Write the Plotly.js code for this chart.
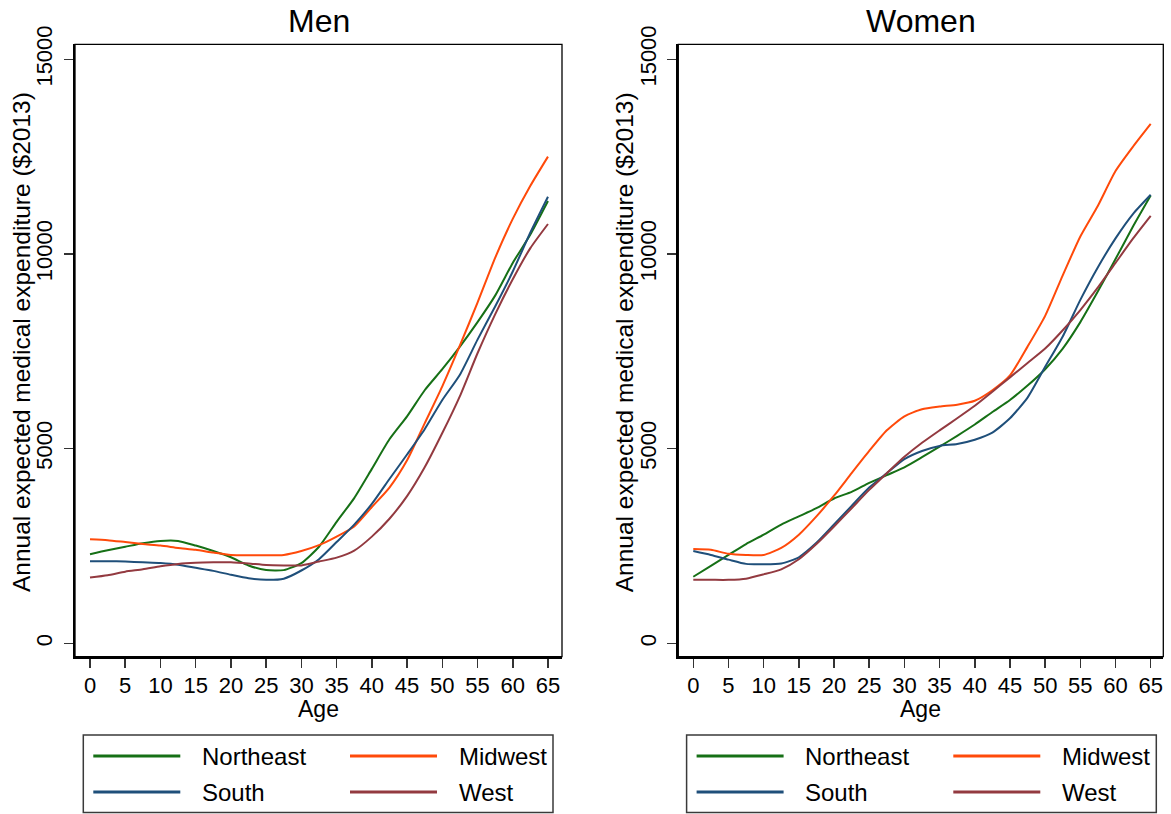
<!DOCTYPE html>
<html>
<head>
<meta charset="utf-8">
<script src="https://cdn.plot.ly/plotly-3.0.1.min.js"></script>
<style>html,body{margin:0;padding:0;background:#fff;}#chart{width:1171px;height:814px;}</style>
</head>
<body>
<div id="chart"></div>
<script>
// ---- data ----
var ages = [0,2.5,5,7.5,10,12.5,15,17.5,20,22.5,25,27.5,30,32.5,35,37.5,40,42.5,45,47.5,50,52.5,55,57.5,60,62.5,65];
var regions = ["Northeast","Midwest","South","West"];
var colors = ["#167016","#ff4a0a","#1f4f7a","#933a40"];

var menNortheast = [2290,2390,2480,2570,2630,2630,2510,2370,2210,2000,1880,1880,2060,2480,3120,3730,4480,5240,5830,6500,7040,7620,8250,8930,9770,10500,11360];
var menMidwest   = [2670,2650,2600,2550,2510,2450,2400,2330,2270,2260,2260,2270,2370,2520,2740,3000,3500,4000,4700,5650,6600,7650,8750,9900,10900,11750,12500];
var menSouth     = [2110,2110,2100,2080,2060,2020,1940,1860,1760,1670,1630,1660,1870,2160,2600,3050,3580,4220,4850,5500,6250,6900,7800,8650,9550,10550,11470];
var menWest      = [1690,1750,1840,1900,1980,2040,2070,2080,2080,2050,2010,2000,2000,2100,2200,2380,2740,3200,3780,4520,5400,6350,7450,8450,9350,10150,10770];

var womenNortheast = [1710,1990,2270,2550,2790,3050,3260,3470,3720,3890,4120,4320,4520,4780,5050,5330,5620,5940,6250,6620,7040,7570,8250,9040,9870,10710,11500];
var womenMidwest   = [2420,2400,2300,2270,2270,2450,2790,3260,3790,4370,4940,5470,5830,6010,6080,6130,6230,6500,6880,7620,8410,9450,10450,11240,12130,12760,13340];
var womenSouth     = [2370,2270,2150,2040,2030,2050,2210,2580,3050,3530,4000,4370,4730,4940,5070,5120,5230,5410,5780,6310,7100,7880,8820,9660,10400,11030,11520];
var womenWest      = [1630,1630,1630,1660,1770,1900,2160,2550,3000,3470,3940,4370,4790,5150,5470,5780,6100,6460,6830,7200,7570,8040,8560,9140,9770,10400,10980];

var xTicks = [0,5,10,15,20,25,30,35,40,45,50,55,60,65];
var yTicks = [0,5000,10000,15000];
var yTickText = ["0","5000","10000","15000"];
var panelTitles = ["Men","Women"];
var xTitle = "Age";
var yTitle = "Annual expected medical expenditure ($2013)";

// ---- build ----
var W = 1171, H = 814;
function PX(p){return p/W;}
function PY(p){return 1-p/H;}
var FONT = "Liberation Sans, Arial, Helvetica, sans-serif";

var menSeries = [menNortheast, menMidwest, menSouth, menWest];
var womenSeries = [womenNortheast, womenMidwest, womenSouth, womenWest];
var traces = [];
function addPanel(series, xa, ya){
  for (var i=0;i<series.length;i++){
    traces.push({type:"scatter", mode:"lines", x:ages, y:series[i], name:regions[i],
      xaxis:xa, yaxis:ya, showlegend:false, hoverinfo:"x+y+name",
      line:{color:colors[i], width:2, shape:"spline", smoothing:0.6}});
  }
}
addPanel(menSeries, "x", "y");
addPanel(womenSeries, "x2", "y2");

function xax(domain, range){
  return {domain:domain, range:range, tickvals:xTicks, ticktext:xTicks.map(String),
    ticks:"outside", ticklen:9, tickwidth:1.5, tickcolor:"#333",
    showline:true, linewidth:2, linecolor:"#000", mirror:false,
    showgrid:false, zeroline:false, fixedrange:true,
    tickfont:{family:FONT, size:22, color:"#000"}, ticklabelstandoff:-1};
}
function yax(anchor){
  return {domain:[PY(656.7), PY(44.3)], range:[-344,15385], anchor:anchor,
    tickvals:yTicks, ticktext:yTickText, tickangle:-90,
    ticks:"outside", ticklen:9, tickwidth:1.5, tickcolor:"#333",
    showline:true, linewidth:2, linecolor:"#000", mirror:false,
    showgrid:false, zeroline:false, fixedrange:true,
    tickfont:{family:FONT, size:22, color:"#000"}, ticklabelstandoff:3};
}

var offsets = [0, 603.3];
var panelDomains = [[PX(75), PX(562)], [PX(678.3), PX(1163.3)]];
var shapes = [], annotations = [];
["", "2"].forEach(function(s, k){
  shapes.push({type:"rect", xref:"x"+s+" domain", yref:"y"+s+" domain", x0:0, x1:1, y0:0, y1:1,
    line:{color:"#000", width:1.3}, fillcolor:"rgba(0,0,0,0)", layer:"above"});
});
for (var k=0;k<2;k++){
  var o = offsets[k];
  var cx = (panelDomains[k][0]+panelDomains[k][1])/2;
  annotations.push({text:panelTitles[k], xref:"paper", yref:"paper", x:cx, y:PY(21),
    xanchor:"center", yanchor:"middle", showarrow:false, font:{family:FONT, size:32, color:"#000"}});
  annotations.push({text:xTitle, xref:"paper", yref:"paper", x:cx, y:PY(709),
    xanchor:"center", yanchor:"middle", showarrow:false, font:{family:FONT, size:23, color:"#000"}});
  annotations.push({text:yTitle, xref:"paper", yref:"paper", x:PX(21+o), y:PY(342), textangle:-90,
    xanchor:"center", yanchor:"middle", showarrow:false, font:{family:FONT, size:24.5, color:"#000"}});
  // legend box
  shapes.push({type:"rect", xref:"paper", yref:"paper", x0:PX(83.3+o), x1:PX(553+o), y0:PY(735), y1:PY(812.5),
    line:{color:"#3a3a3a", width:1.5}, fillcolor:"rgba(0,0,0,0)"});
  var lx = [93.3, 350], tx = [200, 456.7], ly = [756, 792];
  for (var i=0;i<regions.length;i++){
    var col = i%2, row = Math.floor(i/2);
    shapes.push({type:"line", xref:"paper", yref:"paper", x0:PX(lx[col]+o), x1:PX(lx[col]+87+o),
      y0:PY(ly[row]), y1:PY(ly[row]), line:{color:colors[i], width:3}});
    annotations.push({text:regions[i], xref:"paper", yref:"paper", x:PX(tx[col]+o), y:PY(ly[row]),
      xanchor:"left", yanchor:"middle", showarrow:false, font:{family:FONT, size:24, color:"#000"}});
  }
}

var layout = {
  width:W, height:H, margin:{l:0,r:0,t:0,b:0}, paper_bgcolor:"#fff", plot_bgcolor:"#fff",
  showlegend:false, font:{family:FONT, color:"#000"},
  xaxis: Object.assign(xax(panelDomains[0], [-2.13, 66.99]), {anchor:"y"}),
  yaxis: yax("x"),
  xaxis2: Object.assign(xax(panelDomains[1], [-2.13, 66.79]), {anchor:"y2"}),
  yaxis2: yax("x2"),
  shapes:shapes, annotations:annotations
};
Plotly.newPlot("chart", traces, layout, {displayModeBar:false, staticPlot:true});
</script>
</body>
</html>
